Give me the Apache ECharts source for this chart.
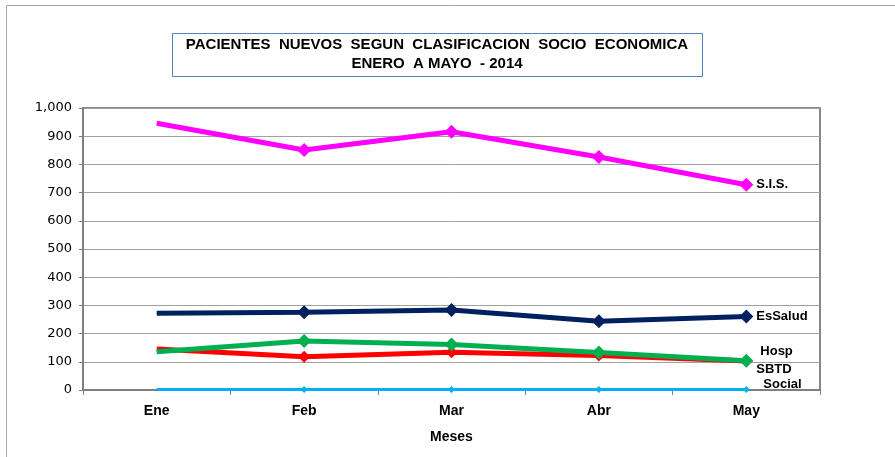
<!DOCTYPE html>
<html>
<head>
<meta charset="utf-8">
<script src="https://cdn.jsdelivr.net/npm/echarts@6/dist/echarts.min.js"></script>
<style>
  html, body { margin: 0; padding: 0; background: #fff; }
  #chart { width: 895px; height: 457px; }
</style>
</head>
<body>
<div id="chart"></div>
<script>
// meses
const meses = ["Ene", "Feb", "Mar", "Abr", "May"];

// pacientes nuevos por clasificacion
const sis = [946, 851, 916, 826, 728];
const esSalud = [272, 276, 284, 244, 261];
const hosp = [136, 174, 161, 133, 104];
const sbtd = [145, 118, 134, 122, 103];
const social = [2, 2, 2, 2, 2];

const tituloLinea1 = "PACIENTES  NUEVOS  SEGUN  CLASIFICACION  SOCIO  ECONOMICA";
const tituloLinea2 = "ENERO  A MAYO  - 2014";

const chart = echarts.init(document.getElementById("chart"));

// sin marcador en el primer punto (igual que la grafica original)
const puntos = (arr) => arr.map((v, i) => (i === 0 ? { value: v, symbol: "none" } : v));

const serie = (name, data, color, width, size, offset) => ({
  name: name,
  type: "line",
  data: puntos(data),
  symbol: "diamond",
  symbolSize: size,
  showAllSymbol: true,
  lineStyle: { color: color, width: width },
  itemStyle: { color: color },
  endLabel: {
    show: true,
    formatter: name,
    color: "#000",
    fontWeight: "bold",
    fontSize: 13,
    fontFamily: "Liberation Sans, Arial, sans-serif",
    distance: 10,
    offset: offset,
  },
  z: 3,
});

chart.setOption({
  animation: false,
  graphic: [
    {
      type: "rect",
      shape: { x: 6.5, y: 5.5, width: 900, height: 460 },
      style: { fill: "none", stroke: "#a6a6a6", lineWidth: 1 },
      silent: true,
    },
    {
      type: "rect",
      shape: { x: 172.5, y: 33.5, width: 530, height: 43 },
      style: { fill: "#fff", stroke: "#4f81bd", lineWidth: 1 },
      silent: true,
    },
    {
      type: "text",
      x: 437,
      y: 45,
      style: {
        text: tituloLinea1,
        align: "center",
        verticalAlign: "middle",
        font: "bold 15px 'Liberation Sans', Arial, sans-serif",
        fill: "#000",
      },
    },
    {
      type: "text",
      x: 437,
      y: 64,
      style: {
        text: tituloLinea2,
        align: "center",
        verticalAlign: "middle",
        font: "bold 15px 'Liberation Sans', Arial, sans-serif",
        fill: "#000",
      },
    },
  ],
  grid: {
    left: 83,
    right: 75,
    top: 108,
    bottom: 67,
    show: true,
    borderColor: "#606060",
    borderWidth: 1.5,
  },
  xAxis: {
    type: "category",
    data: meses,
    boundaryGap: true,
    name: "Meses",
    nameLocation: "middle",
    nameGap: 40,
    nameTextStyle: {
      fontWeight: "bold",
      fontSize: 14,
      color: "#000",
      fontFamily: "Liberation Sans, Arial, sans-serif",
    },
    axisLine: { lineStyle: { color: "#7f7f7f", width: 2 } },
    axisTick: { show: true, alignWithLabel: false, length: 5, lineStyle: { color: "#7f7f7f" } },
    axisLabel: {
      margin: 14,
      fontWeight: "bold",
      fontSize: 14,
      color: "#000",
      fontFamily: "Liberation Sans, Arial, sans-serif",
    },
  },
  yAxis: {
    type: "value",
    min: 0,
    max: 1000,
    interval: 100,
    axisLine: { show: true, lineStyle: { color: "#7f7f7f", width: 2 } },
    axisTick: { show: true, length: 4, lineStyle: { color: "#7f7f7f" } },
    splitLine: { lineStyle: { color: "#a0a0a0", width: 1 } },
    axisLabel: {
      margin: 11,
      fontSize: 13,
      color: "#000",
      fontFamily: "DejaVu Sans, sans-serif",
      formatter: (v) => v.toLocaleString("en-US"),
    },
  },
  series: [
    serie("S.I.S.", sis, "#ff00ff", 5, 14, [0, 0]),
    serie("EsSalud", esSalud, "#002060", 5, 14, [0, 0]),
    serie("SBTD", sbtd, "#ff0000", 5, 12, [0, 8]),
    serie("Hosp", hosp, "#00b050", 5, 14, [4, -9]),
    serie("Social", social, "#00b0f0", 3, 7, [7, -5]),
  ],
});
</script>
</body>
</html>
